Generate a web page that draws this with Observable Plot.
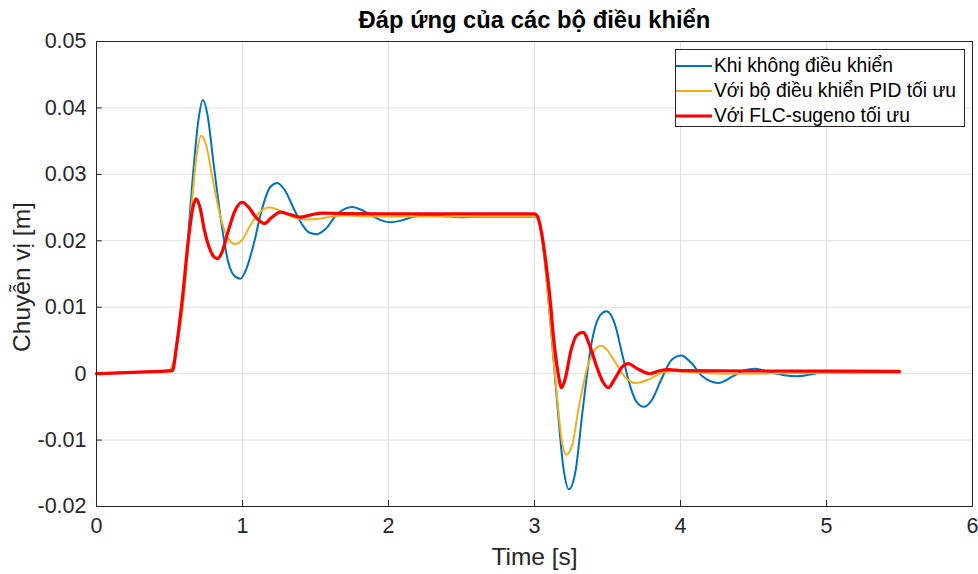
<!DOCTYPE html>
<html><head><meta charset="utf-8">
<script src="https://cdn.jsdelivr.net/npm/d3@7"></script>
<script src="https://cdn.jsdelivr.net/npm/@observablehq/plot@0.6"></script>
<style>
body{margin:0;background:#fff;}
#wrap{position:relative;width:978px;height:574px;font-family:"Liberation Sans",Arial,sans-serif;}
#legend{position:absolute;left:675px;top:49px;width:290px;height:78px;border:1px solid #262626;background:#fff;box-sizing:border-box;}
.row{position:absolute;left:0;height:24px;display:flex;align-items:center;}
.sw{width:36px;margin-right:2px;}
.lt{font-size:19.3px;color:#000;white-space:nowrap;}
</style></head>
<body><div id="wrap"></div>
<script>
const title = "Đáp ứng của các bộ điều khiển";
const xLabel = "Time [s]";
const yLabel = "Chuyễn vị [m]";
const seriesNames = ["Khi không điều khiển","Với bộ điều khiển PID tối ưu","Với FLC-sugeno tối ưu"];
const seriesColors = ["#0072BD","#EDB120","#FF0000"];
const seriesWidths = [2,2,3.2];
const xTicks = [0,1,2,3,4,5,6];
const xTickLabels = ["0","1","2","3","4","5","6"];
const yTicks = [-0.02,-0.01,0,0.01,0.02,0.03,0.04,0.05];
const yTickLabels = ["-0.02","-0.01","0","0.01","0.02","0.03","0.04","0.05"];

const noControl = [[0,0],[0.25,0.0002],[0.5,0.0004],[0.52,0.0012],[0.55,0.004],[0.6,0.0125],[0.65,0.027],[0.7,0.0385],[0.728,0.0412],[0.76,0.039],[0.8,0.032],[0.85,0.0235],[0.9,0.017],[0.95,0.0146],[0.986,0.0143],[1.03,0.016],[1.08,0.0198],[1.13,0.0245],[1.19,0.0281],[1.238,0.0287],[1.29,0.0276],[1.35,0.0249],[1.41,0.0224],[1.46,0.0212],[1.51,0.0210],[1.57,0.0218],[1.64,0.0238],[1.7,0.0248],[1.751,0.0251],[1.82,0.0246],[1.9,0.0236],[1.96,0.0230],[2.014,0.0228],[2.08,0.0230],[2.17,0.0236],[2.27,0.0239],[2.38,0.0237],[2.49,0.02355],[2.6,0.0236],[2.8,0.0236],[3.0,0.0236],[3.03,0.023],[3.06,0.019],[3.1,0.010],[3.15,-0.003],[3.2,-0.0145],[3.235,-0.0174],[3.28,-0.0148],[3.33,-0.0055],[3.39,0.0045],[3.45,0.0088],[3.493,0.0094],[3.55,0.0075],[3.6,0.003],[3.65,-0.0015],[3.7,-0.0043],[3.749,-0.0050],[3.8,-0.0041],[3.87,-0.0008],[3.94,0.0021],[4.005,0.00275],[4.07,0.0017],[4.15,-0.0004],[4.26,-0.0014],[4.35,-0.0005],[4.44,0.0005],[4.51,0.00075],[4.6,0.0003],[4.7,-0.0002],[4.8,-0.0004],[4.92,0.0000],[5.05,0.0003],[5.2,0.0002],[5.35,0.0001],[5.5,0.0001]];

const pid = [[0,0],[0.25,0.0002],[0.5,0.0003],[0.52,0.0011],[0.55,0.004],[0.6,0.012],[0.65,0.025],[0.69,0.0335],[0.717,0.0358],[0.75,0.0345],[0.8,0.0288],[0.85,0.0235],[0.9,0.0204],[0.952,0.0195],[1.0,0.0202],[1.05,0.0222],[1.11,0.0241],[1.18,0.0250],[1.24,0.0247],[1.3,0.0240],[1.37,0.0234],[1.443,0.0232],[1.52,0.0233],[1.6,0.0236],[1.7,0.0238],[1.85,0.0237],[2.0,0.02365],[3.0,0.02365],[3.03,0.0228],[3.06,0.019],[3.1,0.010],[3.15,-0.0025],[3.19,-0.0105],[3.219,-0.0122],[3.26,-0.0106],[3.3,-0.0055],[3.36,0.0008],[3.41,0.0035],[3.457,0.0042],[3.5,0.0035],[3.55,0.0018],[3.62,-0.0005],[3.692,-0.0014],[3.78,-0.0009],[3.87,0.0001],[3.95,0.0004],[4.1,0.0002],[4.3,0.0000],[5.0,0.0001],[5.5,0.0001]];

const flc = [[0,0],[0.25,0.0002],[0.52,0.00045],[0.55,0.0045],[0.587,0.0111],[0.63,0.0203],[0.66,0.0250],[0.683,0.0263],[0.71,0.0249],[0.74,0.0215],[0.77,0.0191],[0.8,0.0177],[0.826,0.0173],[0.86,0.0183],[0.9,0.0213],[0.95,0.0246],[0.998,0.0258],[1.04,0.0251],[1.09,0.0236],[1.15,0.0226],[1.2,0.0235],[1.26,0.0243],[1.32,0.0240],[1.397,0.02356],[1.47,0.0239],[1.546,0.02416],[1.7,0.0241],[2.0,0.02405],[3.0,0.02405],[3.02,0.0237],[3.05,0.021],[3.087,0.0151],[3.11,0.0105],[3.132,0.0051],[3.16,0.0003],[3.185,-0.0021],[3.21,-0.0008],[3.25,0.0035],[3.29,0.0058],[3.333,0.0062],[3.38,0.0041],[3.43,0.0008],[3.47,-0.0013],[3.505,-0.0021],[3.55,-0.0008],[3.6,0.0010],[3.642,0.0015],[3.7,0.0008],[3.79,0.0000],[3.85,0.0004],[3.92,0.0006],[4.0,0.00045],[4.5,0.0004],[5.5,0.00035]];

const series = [noControl, pid, flc];
const fmtY = d => yTickLabels[yTicks.indexOf(d)] ?? String(d);
const fmtX = d => xTickLabels[xTicks.indexOf(d)] ?? String(d);
const ink = "#262626";

const chart = Plot.plot({
  width: 978, height: 574,
  marginLeft: 96, marginRight: 6, marginTop: 41, marginBottom: 68,
  style: {fontFamily: "Liberation Sans, Arial, sans-serif", fontSize: "21.5px", color: ink, background: "#fff", overflow: "visible"},
  x: {domain: [0, 6]},
  y: {domain: [-0.02, 0.05]},
  marks: [
    Plot.gridX(xTicks, {stroke: "#dfdfdf", strokeOpacity: 1}),
    Plot.gridY(yTicks, {stroke: "#dfdfdf", strokeOpacity: 1}),
    Plot.axisX(xTicks, {tickSize: 0, tickPadding: 11, tickFormat: fmtX, label: null, fill: ink}),
    Plot.axisY(yTicks, {tickSize: 0, tickPadding: 10, tickFormat: fmtY, label: null, fill: ink}),
    Plot.ruleX(xTicks, {insetTop: 459, stroke: ink}),
    Plot.ruleY(yTicks, {x1: 0, x2: 0.04, stroke: ink}),
    ...series.map((s, i) => Plot.line(s, {x: d => d[0], y: d => d[1], stroke: seriesColors[i], strokeWidth: seriesWidths[i], curve: "monotone-x"})),
    Plot.frame({stroke: ink}),
    Plot.text([title], {frameAnchor: "top", dy: -21, fontWeight: "bold", fontSize: 23.8, fill: "#000", textAnchor: "middle", lineAnchor: "middle"}),
    Plot.text([xLabel], {frameAnchor: "bottom", dy: 51, fontSize: 24.5, fill: ink, textAnchor: "middle", lineAnchor: "middle"}),
    Plot.text([yLabel], {frameAnchor: "left", dx: -74, dy: 3, rotate: -90, fontSize: 24.5, fill: ink, textAnchor: "middle", lineAnchor: "middle"})
  ]
});
const wrap = document.getElementById("wrap");
wrap.appendChild(chart);

const legend = document.createElement("div");
legend.id = "legend";
seriesNames.forEach((name, i) => {
  const row = document.createElement("div");
  row.className = "row";
  row.style.top = (4 + i * 25) + "px";
  const sw = document.createElementNS("http://www.w3.org/2000/svg", "svg");
  sw.setAttribute("class", "sw"); sw.setAttribute("width", 36); sw.setAttribute("height", 24);
  const ln = document.createElementNS("http://www.w3.org/2000/svg", "line");
  ln.setAttribute("x1", 0); ln.setAttribute("x2", 36); ln.setAttribute("y1", 12); ln.setAttribute("y2", 12);
  ln.setAttribute("stroke", seriesColors[i]); ln.setAttribute("stroke-width", seriesWidths[i]);
  sw.appendChild(ln);
  const tx = document.createElement("span");
  tx.className = "lt"; tx.textContent = name;
  row.appendChild(sw); row.appendChild(tx);
  legend.appendChild(row);
});
wrap.appendChild(legend);
</script></body></html>
